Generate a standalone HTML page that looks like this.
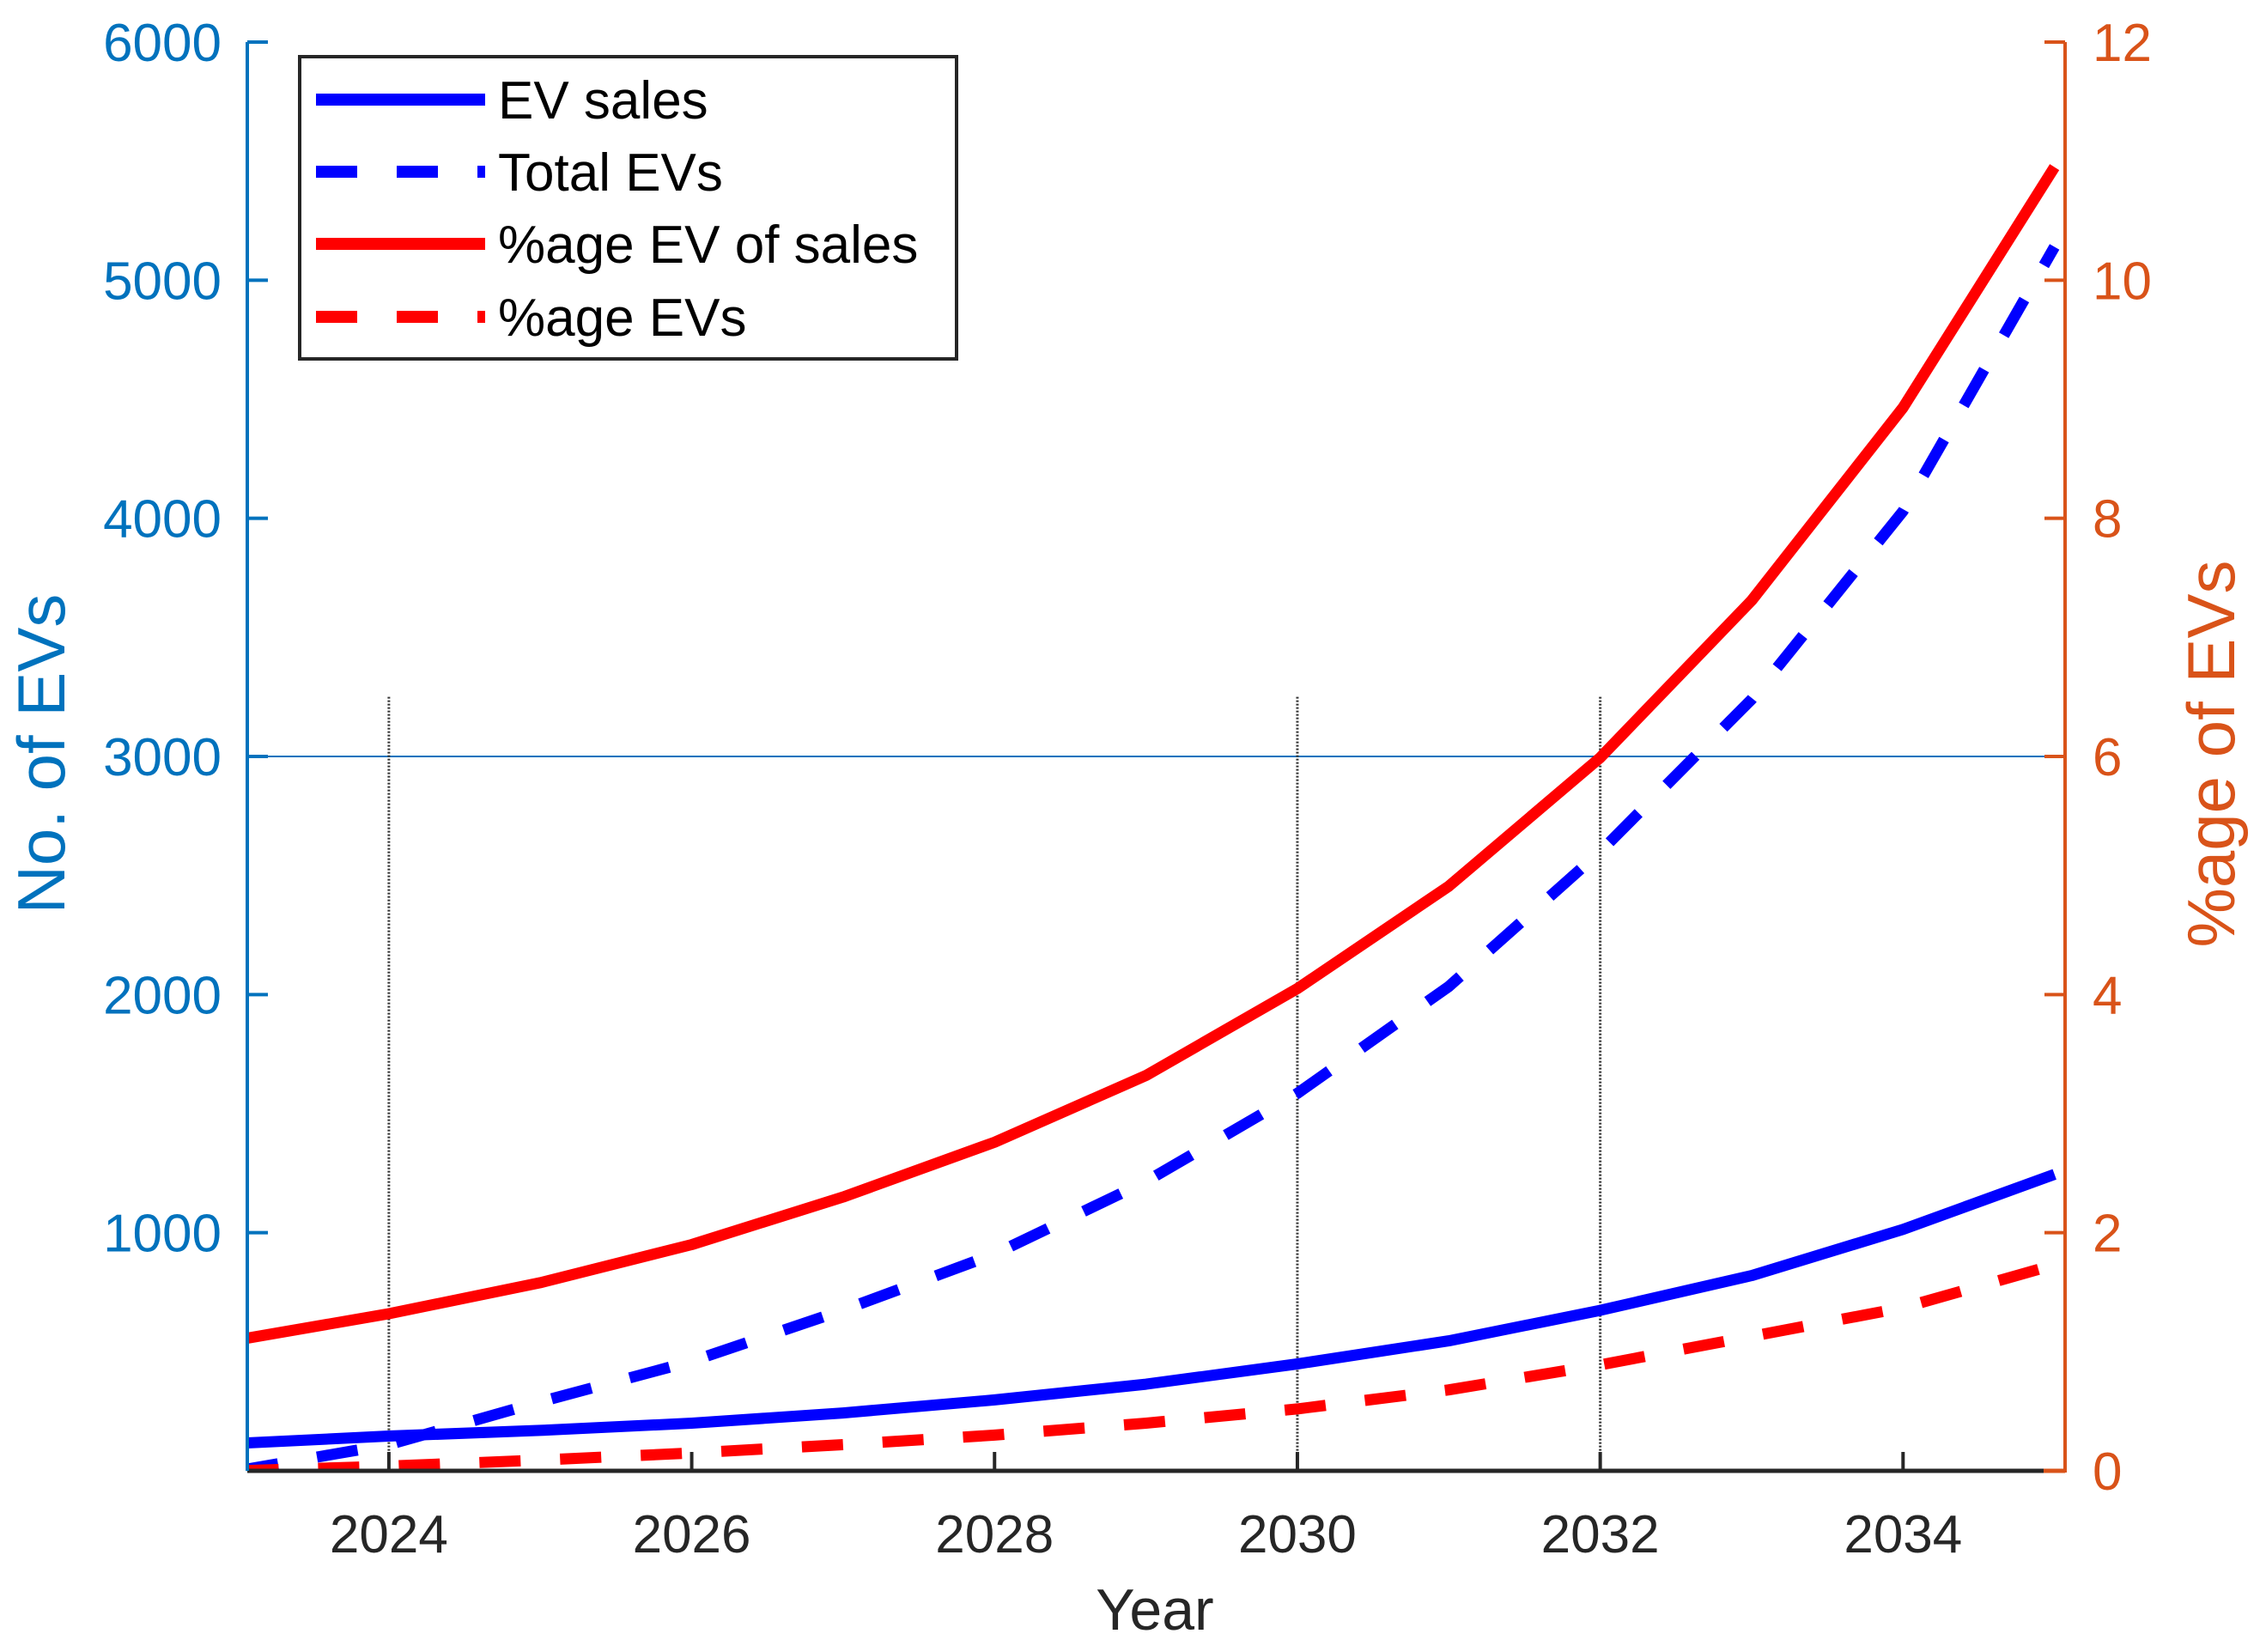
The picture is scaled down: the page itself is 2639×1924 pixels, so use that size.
<!DOCTYPE html>
<html><head><meta charset="utf-8"><style>
html,body{margin:0;padding:0;background:#fff;}
svg{display:block;font-family:"Liberation Sans",Arial,sans-serif;}
</style></head><body>
<svg id="chart" width="2639" height="1924" viewBox="0 0 2639 1924" xmlns="http://www.w3.org/2000/svg">
<defs><clipPath id="plotclip"><rect x="288" y="40" width="2117" height="1673"/></clipPath></defs>
<g id="grid"></g>
<g id="series" clip-path="url(#plotclip)"></g>
<g id="axes"></g>
<text x="1345" y="1898" font-size="68" fill="#262626" text-anchor="middle">Year</text>
<text transform="translate(75,878) rotate(-90)" font-size="78" fill="#0072BD" text-anchor="middle">No. of EVs</text>
<text transform="translate(2602,878) rotate(-90)" font-size="78" fill="#D95319" text-anchor="middle">%age of EVs</text>
<g>
<rect x="349" y="66" width="765" height="352" fill="#fff" stroke="#262626" stroke-width="4"/>
<g><line x1="368" y1="116" x2="565" y2="116" stroke="#0000FF" stroke-width="14"/><text x="580" y="138" font-size="62" fill="#000">EV sales</text></g>
<g><line x1="368" y1="200" x2="565" y2="200" stroke="#0000FF" stroke-width="14" stroke-dasharray="48 46"/><text x="580" y="222" font-size="62" fill="#000">Total EVs</text></g>
<g><line x1="368" y1="284" x2="565" y2="284" stroke="#FF0000" stroke-width="14"/><text x="580" y="306" font-size="62" fill="#000">%age EV of sales</text></g>
<g><line x1="368" y1="369" x2="565" y2="369" stroke="#FF0000" stroke-width="14" stroke-dasharray="48 46"/><text x="580" y="391" font-size="62" fill="#000">%age EVs</text></g>
</g>
</svg>
<script>
const years = [2023,2024,2025,2026,2027,2028,2029,2030,2031,2032,2033,2034,2035];
const evSales = [115,146,170,200,243,298,364,449,546,674,820,1014,1245];
const totalEVs = [0,110,290,460,675,910,1215,1585,2034,2600,3240,4030,5140];
const pctEvOfSales = [1.10,1.32,1.58,1.90,2.30,2.76,3.32,4.05,4.91,5.99,7.31,8.93,10.95];
const pctEVs = [0,0.04,0.09,0.15,0.22,0.30,0.40,0.52,0.68,0.89,1.13,1.37,1.73];
const xTicks = [2024,2026,2028,2030,2032,2034];
const leftTicks = [1000,2000,3000,4000,5000,6000];
const rightTicks = [0,2,4,6,8,10,12];
const vGrid = [2024,2030,2032];

const NS = "http://www.w3.org/2000/svg";
const L=288,R=2405,T=49,B=1713, XMIN=2023.065, XMAX=2035.07;
const xs = v => L + (v-XMIN)/(XMAX-XMIN)*(R-L);
const yl = v => B - v/6000*(B-T);
const yr = v => B - v/12*(B-T);
function mk(tag, attrs, parent){const e=document.createElementNS(NS,tag);for(const k in attrs)e.setAttribute(k,attrs[k]);parent.appendChild(e);return e;}
const grid=document.getElementById('grid'), series=document.getElementById('series'), axes=document.getElementById('axes');

const hl = mk('line',{x1:L,x2:R,y1:yl(3000),y2:yl(3000),stroke:'#0072BD','stroke-width':2},grid);


vGrid.forEach(g=>{
  const ln = mk('line',{x1:xs(g),x2:xs(g),y1:yl(3250),y2:B,stroke:'#333','stroke-width':3,'stroke-dasharray':'2 2'},grid);
  
  
});

function line(vals, yf, color, dash, name){
  const d = vals.map((v,i)=>(i?'L':'M')+xs(years[i]).toFixed(1)+','+yf(v).toFixed(1)).join(' ');
  const p = mk('path',{d:d,fill:'none',stroke:color,'stroke-width':13,'stroke-linejoin':'round'},series);
  if(dash) p.setAttribute('stroke-dasharray','48 46');
  
  
}
line(evSales, yl, '#0000FF', false, 'ev-sales-line');
line(totalEVs, yl, '#0000FF', true, 'total-evs-line');
line(pctEvOfSales, yr, '#FF0000', false, 'pct-ev-of-sales-line');
line(pctEVs, yr, '#FF0000', true, 'pct-evs-line');

const ba = mk('line',{x1:L,x2:R,y1:B,y2:B,stroke:'#262626','stroke-width':5},axes);


const la = mk('line',{x1:L,x2:L,y1:T,y2:B,stroke:'#0072BD','stroke-width':4},axes);


const ra = mk('line',{x1:R,x2:R,y1:T,y2:B+2,stroke:'#D95319','stroke-width':4},axes);


const rb = mk('line',{x1:R-25,x2:R,y1:B,y2:B,stroke:'#D95319','stroke-width':5},axes);



xTicks.forEach(t=>{
  const x=xs(t);
  const tk = mk('line',{x1:x,x2:x,y1:B,y2:B-22,stroke:'#262626','stroke-width':4},axes);
  
  
  const tx = mk('text',{x:x,y:B+95,'font-size':62,fill:'#262626','text-anchor':'middle'},axes);
  tx.textContent=t;
  
  
});
leftTicks.forEach(t=>{
  const y=yl(t);
  const tk = mk('line',{x1:L,x2:L+24,y1:y,y2:y,stroke:'#0072BD','stroke-width':4},axes);
  
  
  const tx = mk('text',{x:258,y:y+22,'font-size':62,fill:'#0072BD','text-anchor':'end'},axes);
  tx.textContent=t;
  
  
});
rightTicks.forEach(t=>{
  const y=yr(t);
  const tk = mk('line',{x1:R-24,x2:R,y1:y,y2:y,stroke:'#D95319','stroke-width':4},axes);
  
  
  const tx = mk('text',{x:2437,y:y+22,'font-size':62,fill:'#D95319','text-anchor':'start'},axes);
  tx.textContent=t;
  
  
});
</script>
</body></html>
